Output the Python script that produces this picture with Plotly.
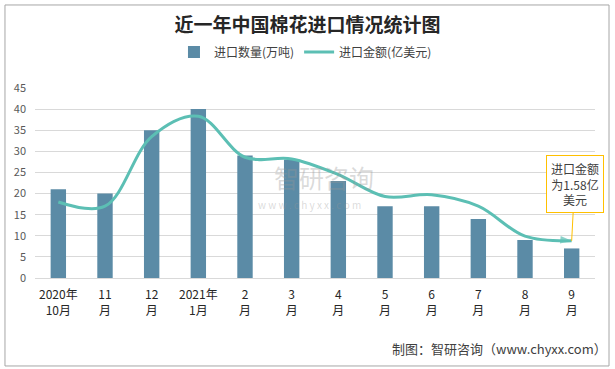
import plotly.graph_objects as go

categories = ["2020年<br>10月", "11<br>月", "12<br>月", "2021年<br>1月", "2<br>月", "3<br>月",
              "4<br>月", "5<br>月", "6<br>月", "7<br>月", "8<br>月", "9<br>月"]
quantity = [21, 20, 35, 40, 29, 28, 23, 17, 17, 14, 9, 7]
amount = [18, 17, 33.5, 38.3, 28.6, 28.2, 24.5, 19.3, 19.7, 17, 9.9, 8.8]

FONT = "Noto Sans CJK SC"
BAR_COLOR = "#5B8BA6"
LINE_COLOR = "#5CBFB4"

n = len(categories)
symbols = ["circle"] + ["circle"] * (n - 2) + ["arrow"]
sizes = [11] + [0] * (n - 2) + [12]

fig = go.Figure()
fig.add_trace(go.Bar(
    x=categories, y=quantity, name="进口数量(万吨)",
    marker=dict(color=BAR_COLOR, line=dict(width=0)), width=0.33,
))
fig.add_trace(go.Scatter(
    x=categories, y=amount, name="进口金额(亿美元)", mode="lines+markers",
    line=dict(color=LINE_COLOR, width=3, shape="spline", smoothing=1.0),
    marker=dict(symbol=symbols, size=sizes, color=LINE_COLOR, angleref="previous",
                line=dict(width=0)),
))

fig.update_layout(
    width=615, height=369,
    margin=dict(l=35, r=20, t=88, b=91, autoexpand=False),
    paper_bgcolor="white", plot_bgcolor="white",
    font=dict(family=FONT, size=12, color="#404040"),
    title=dict(text="<b>近一年中国棉花进口情况统计图</b>", x=0.5, xanchor="center",
               y=0.93, yanchor="middle", font=dict(family=FONT, size=19, color="#262626")),
    legend=dict(orientation="h", x=0.483, xanchor="center", y=1.19, yanchor="middle",
                font=dict(size=12, color="#404040"), itemwidth=30),
    showlegend=True,
)
fig.update_xaxes(
    type="category", range=[-0.5, n - 0.5], showgrid=False, showline=True,
    linecolor="#D9D9D9", linewidth=1,
    ticks="", tickfont=dict(size=12, color="#262626"), ticklabelstandoff=6,
    automargin=False,
)
fig.update_yaxes(
    range=[0, 45], dtick=5, showgrid=True, gridcolor="#D9D9D9", gridwidth=1,
    zeroline=False, showline=False, ticks="", tickfont=dict(size=11, color="#595959"),
    ticklabelstandoff=8, automargin=False,
)

# outer border
fig.add_shape(type="rect", xref="paper", yref="paper",
              x0=-0.0536, x1=1.025, y0=-0.463, y1=1.437,
              line=dict(color="#A6A6A6", width=1), fillcolor="rgba(0,0,0,0)", layer="below")

# callout for last point
fig.add_annotation(
    x=categories[-1], y=amount[-1], xref="x", yref="y",
    text="进口金额<br>为1.58亿<br>美元", showarrow=True, arrowhead=0,
    arrowcolor="#FFC000", arrowwidth=1, ax=3, ay=-57,
    bordercolor="#FFC000", borderwidth=1, borderpad=4, bgcolor="white",
    font=dict(size=12, color="#404040"), align="center",
)

# watermark
fig.add_annotation(x=0.516, y=0.53, xref="paper", yref="paper", text="智研咨询",
                   showarrow=False, font=dict(size=25, color="rgba(150,150,150,0.35)"))
fig.add_annotation(x=0.49, y=0.385, xref="paper", yref="paper",
                   text="w w w . c h y x x . c o m", showarrow=False,
                   font=dict(size=10, color="rgba(150,150,150,0.35)"))

# source
fig.add_annotation(x=1.025, y=-0.37, xref="paper", yref="paper", xanchor="right",
                   yanchor="middle", text="制图：智研咨询（www.chyxx.com）", showarrow=False,
                   font=dict(size=13, color="#404040"))

fig.write_html("out.html", config={"displayModeBar": False},
               post_script="document.body.style.margin='0px';")
